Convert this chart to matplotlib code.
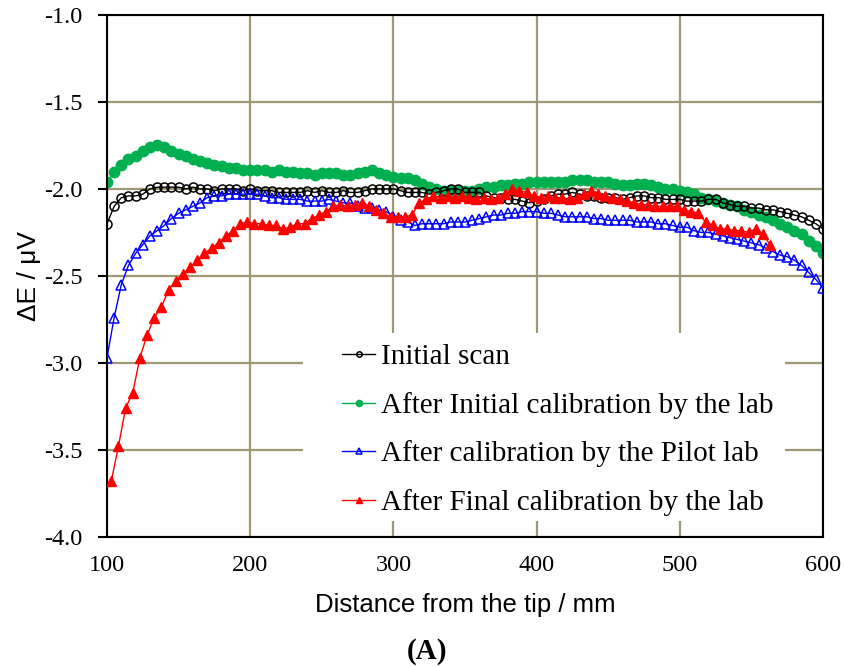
import numpy as np
import matplotlib.pyplot as plt
from matplotlib.patches import Rectangle

# Thermocouple scan: distance from the tip (mm) vs. deviation (uV)
distance = np.arange(100, 601, 5)
distance_final = np.arange(103, 564, 5)

initial_scan = [
    -2.20, -2.10, -2.05, -2.04, -2.04, -2.03, -2.00, -1.99, -1.99, -1.99,
    -1.99, -2.00, -1.99, -2.00, -2.00, -2.01, -2.00, -2.00, -2.00, -2.01,
    -2.00, -2.01, -2.01, -2.01, -2.02, -2.02, -2.02, -2.02, -2.01, -2.02,
    -2.01, -2.02, -2.02, -2.01, -2.02, -2.02, -2.01, -2.00, -2.00, -2.00,
    -2.00, -2.01, -2.02, -2.02, -2.02, -2.03, -2.02, -2.01, -2.00, -2.00,
    -2.02, -2.02, -2.02, -2.04, -2.05, -2.05, -2.06, -2.06, -2.07, -2.08,
    -2.07, -2.06, -2.04, -2.03, -2.03, -2.02, -2.03, -2.04, -2.04, -2.05,
    -2.05, -2.05, -2.06, -2.05, -2.04, -2.04, -2.05, -2.05, -2.06, -2.06,
    -2.06, -2.07, -2.07, -2.07, -2.06, -2.06, -2.08, -2.09, -2.10, -2.10,
    -2.11, -2.11, -2.12, -2.12, -2.13, -2.14, -2.15, -2.16, -2.18, -2.20,
    -2.23,
]

initial_calibration = [
    -1.96, -1.90, -1.86, -1.83, -1.81, -1.78, -1.76, -1.75, -1.76, -1.78,
    -1.80, -1.81, -1.83, -1.84, -1.85, -1.86, -1.87, -1.88, -1.88, -1.89,
    -1.89, -1.89, -1.89, -1.90, -1.89, -1.90, -1.90, -1.91, -1.91, -1.92,
    -1.91, -1.91, -1.91, -1.92, -1.92, -1.91, -1.90, -1.89, -1.91, -1.92,
    -1.93, -1.94, -1.94, -1.95, -1.97, -1.99, -2.00, -2.01, -2.01, -2.01,
    -2.01, -2.01, -2.00, -1.99, -1.99, -1.98, -1.98, -1.97, -1.97, -1.96,
    -1.96, -1.96, -1.96, -1.96, -1.96, -1.95, -1.95, -1.95, -1.96, -1.96,
    -1.96, -1.97, -1.98, -1.98, -1.97, -1.97, -1.98, -1.99, -2.00, -2.00,
    -2.01, -2.02, -2.03, -2.05, -2.06, -2.07, -2.08, -2.09, -2.10, -2.12,
    -2.13, -2.15, -2.16, -2.18, -2.20, -2.22, -2.24, -2.26, -2.30, -2.33,
    -2.37,
]

pilot_calibration = [
    -2.97, -2.74, -2.55, -2.44, -2.37, -2.32, -2.27, -2.24, -2.21, -2.17,
    -2.14, -2.12, -2.10, -2.08, -2.05, -2.04, -2.04, -2.03, -2.03, -2.03,
    -2.03, -2.03, -2.04, -2.05, -2.05, -2.06, -2.06, -2.06, -2.07, -2.07,
    -2.07, -2.06, -2.07, -2.08, -2.08, -2.10, -2.11, -2.11, -2.12, -2.13,
    -2.16, -2.18, -2.19, -2.21, -2.20, -2.20, -2.20, -2.20, -2.19, -2.19,
    -2.19, -2.18, -2.17, -2.16, -2.15, -2.15, -2.14, -2.14, -2.13, -2.13,
    -2.13, -2.14, -2.14, -2.15, -2.16, -2.16, -2.16, -2.16, -2.17, -2.17,
    -2.18, -2.18, -2.18, -2.18, -2.19, -2.19, -2.19, -2.20, -2.20, -2.21,
    -2.22, -2.22, -2.24, -2.25, -2.25, -2.26, -2.27, -2.28, -2.29, -2.30,
    -2.31, -2.32, -2.34, -2.36, -2.38, -2.39, -2.41, -2.44, -2.48, -2.52,
    -2.57,
]

final_calibration = [
    -3.68, -3.48, -3.26, -3.17, -2.97, -2.84, -2.74, -2.68, -2.58, -2.53,
    -2.49, -2.45, -2.41, -2.37, -2.34, -2.31, -2.27, -2.24, -2.20, -2.19,
    -2.20, -2.20, -2.21, -2.21, -2.23, -2.22, -2.20, -2.20, -2.17, -2.15,
    -2.13, -2.10, -2.09, -2.10, -2.09, -2.08, -2.10, -2.12, -2.14, -2.16,
    -2.16, -2.16, -2.15, -2.08, -2.06, -2.04, -2.05, -2.04, -2.05, -2.04,
    -2.05, -2.06, -2.05, -2.06, -2.05, -2.03, -2.00, -2.01, -2.02, -2.04,
    -2.05, -2.04, -2.05, -2.05, -2.06, -2.05, -2.03, -2.01, -2.03, -2.04,
    -2.05, -2.06, -2.07, -2.08, -2.09, -2.09, -2.10, -2.10, -2.10, -2.10,
    -2.12, -2.13, -2.14, -2.19, -2.21, -2.23, -2.23, -2.24, -2.24, -2.25,
    -2.23, -2.26, -2.32,
]

labels = [
    "Initial scan",
    "After Initial calibration by the lab",
    "After calibration by the Pilot lab",
    "After Final calibration by the lab",
]

serif = ["Liberation Serif", "DejaVu Serif"]
grid_color = "#9E9873"

fig = plt.figure(figsize=(8.45, 6.67), dpi=100)
ax = fig.add_axes([0.1266, 0.195, 0.8474, 0.7826])

ax.plot(distance, initial_scan, color="black", lw=1.0, marker="o",
        ms=6.5, mfc="none", mec="black", mew=1.1, label=labels[0], zorder=3)
ax.plot(distance, initial_calibration, color="#00B050", lw=1.0, marker="o",
        ms=7.5, mfc="#00B050", mec="#00B050", label=labels[1], zorder=2)
ax.plot(distance, pilot_calibration, color="blue", lw=1.0, marker="^",
        ms=6.5, mfc="none", mec="blue", mew=1.1, label=labels[2], zorder=3)
ax.plot(distance_final, final_calibration, color="red", lw=1.0, marker="^",
        ms=7.5, mfc="red", mec="red", label=labels[3], zorder=4)

ax.set_xlim(100, 600)
ax.set_ylim(-4.0, -1.0)
ax.set_xticks([100, 200, 300, 400, 500, 600])
yticks = np.arange(-4.0, -0.99, 0.5)
ax.set_yticks(yticks)
ax.set_yticklabels([f"{v:.1f}" for v in yticks])

ax.grid(True, color=grid_color, lw=1.6)
ax.set_axisbelow(True)
for side in ["top", "right", "bottom", "left"]:
    ax.spines[side].set_color("black")
    ax.spines[side].set_linewidth(1.5)

ax.tick_params(axis="y", direction="out", length=6.5, width=1.5,
               colors="black", labelsize=17.5, pad=11)
ax.tick_params(axis="x", direction="out", length=0, colors="black",
               labelsize=17.5, pad=13)
for lbl in ax.get_xticklabels() + ax.get_yticklabels():
    lbl.set_family(serif)

ax.set_xlabel("Distance from the tip / mm", fontsize=18.5,
              family="Liberation Sans", labelpad=12)
ax.set_ylabel("ΔE / μV", fontsize=19, family="Liberation Sans", labelpad=2)

# white patch behind the legend hides the grid there
ax.add_patch(Rectangle((0.274, 0.031), 0.673, 0.36, transform=ax.transAxes,
                       facecolor="white", edgecolor="none", zorder=1.5))

leg = ax.legend(loc="upper left", bbox_to_anchor=(0.328, 0.370),
                prop={"family": serif, "size": 21}, frameon=False,
                handlelength=1.15, handletextpad=0.2, labelspacing=0.74,
                markerscale=0.6, borderpad=0, borderaxespad=0)

fig.text(0.505, 0.0225, "(A)", ha="center", va="center", fontsize=21,
         fontweight="bold", family=serif)

fig.savefig("out.png", dpi=100)
